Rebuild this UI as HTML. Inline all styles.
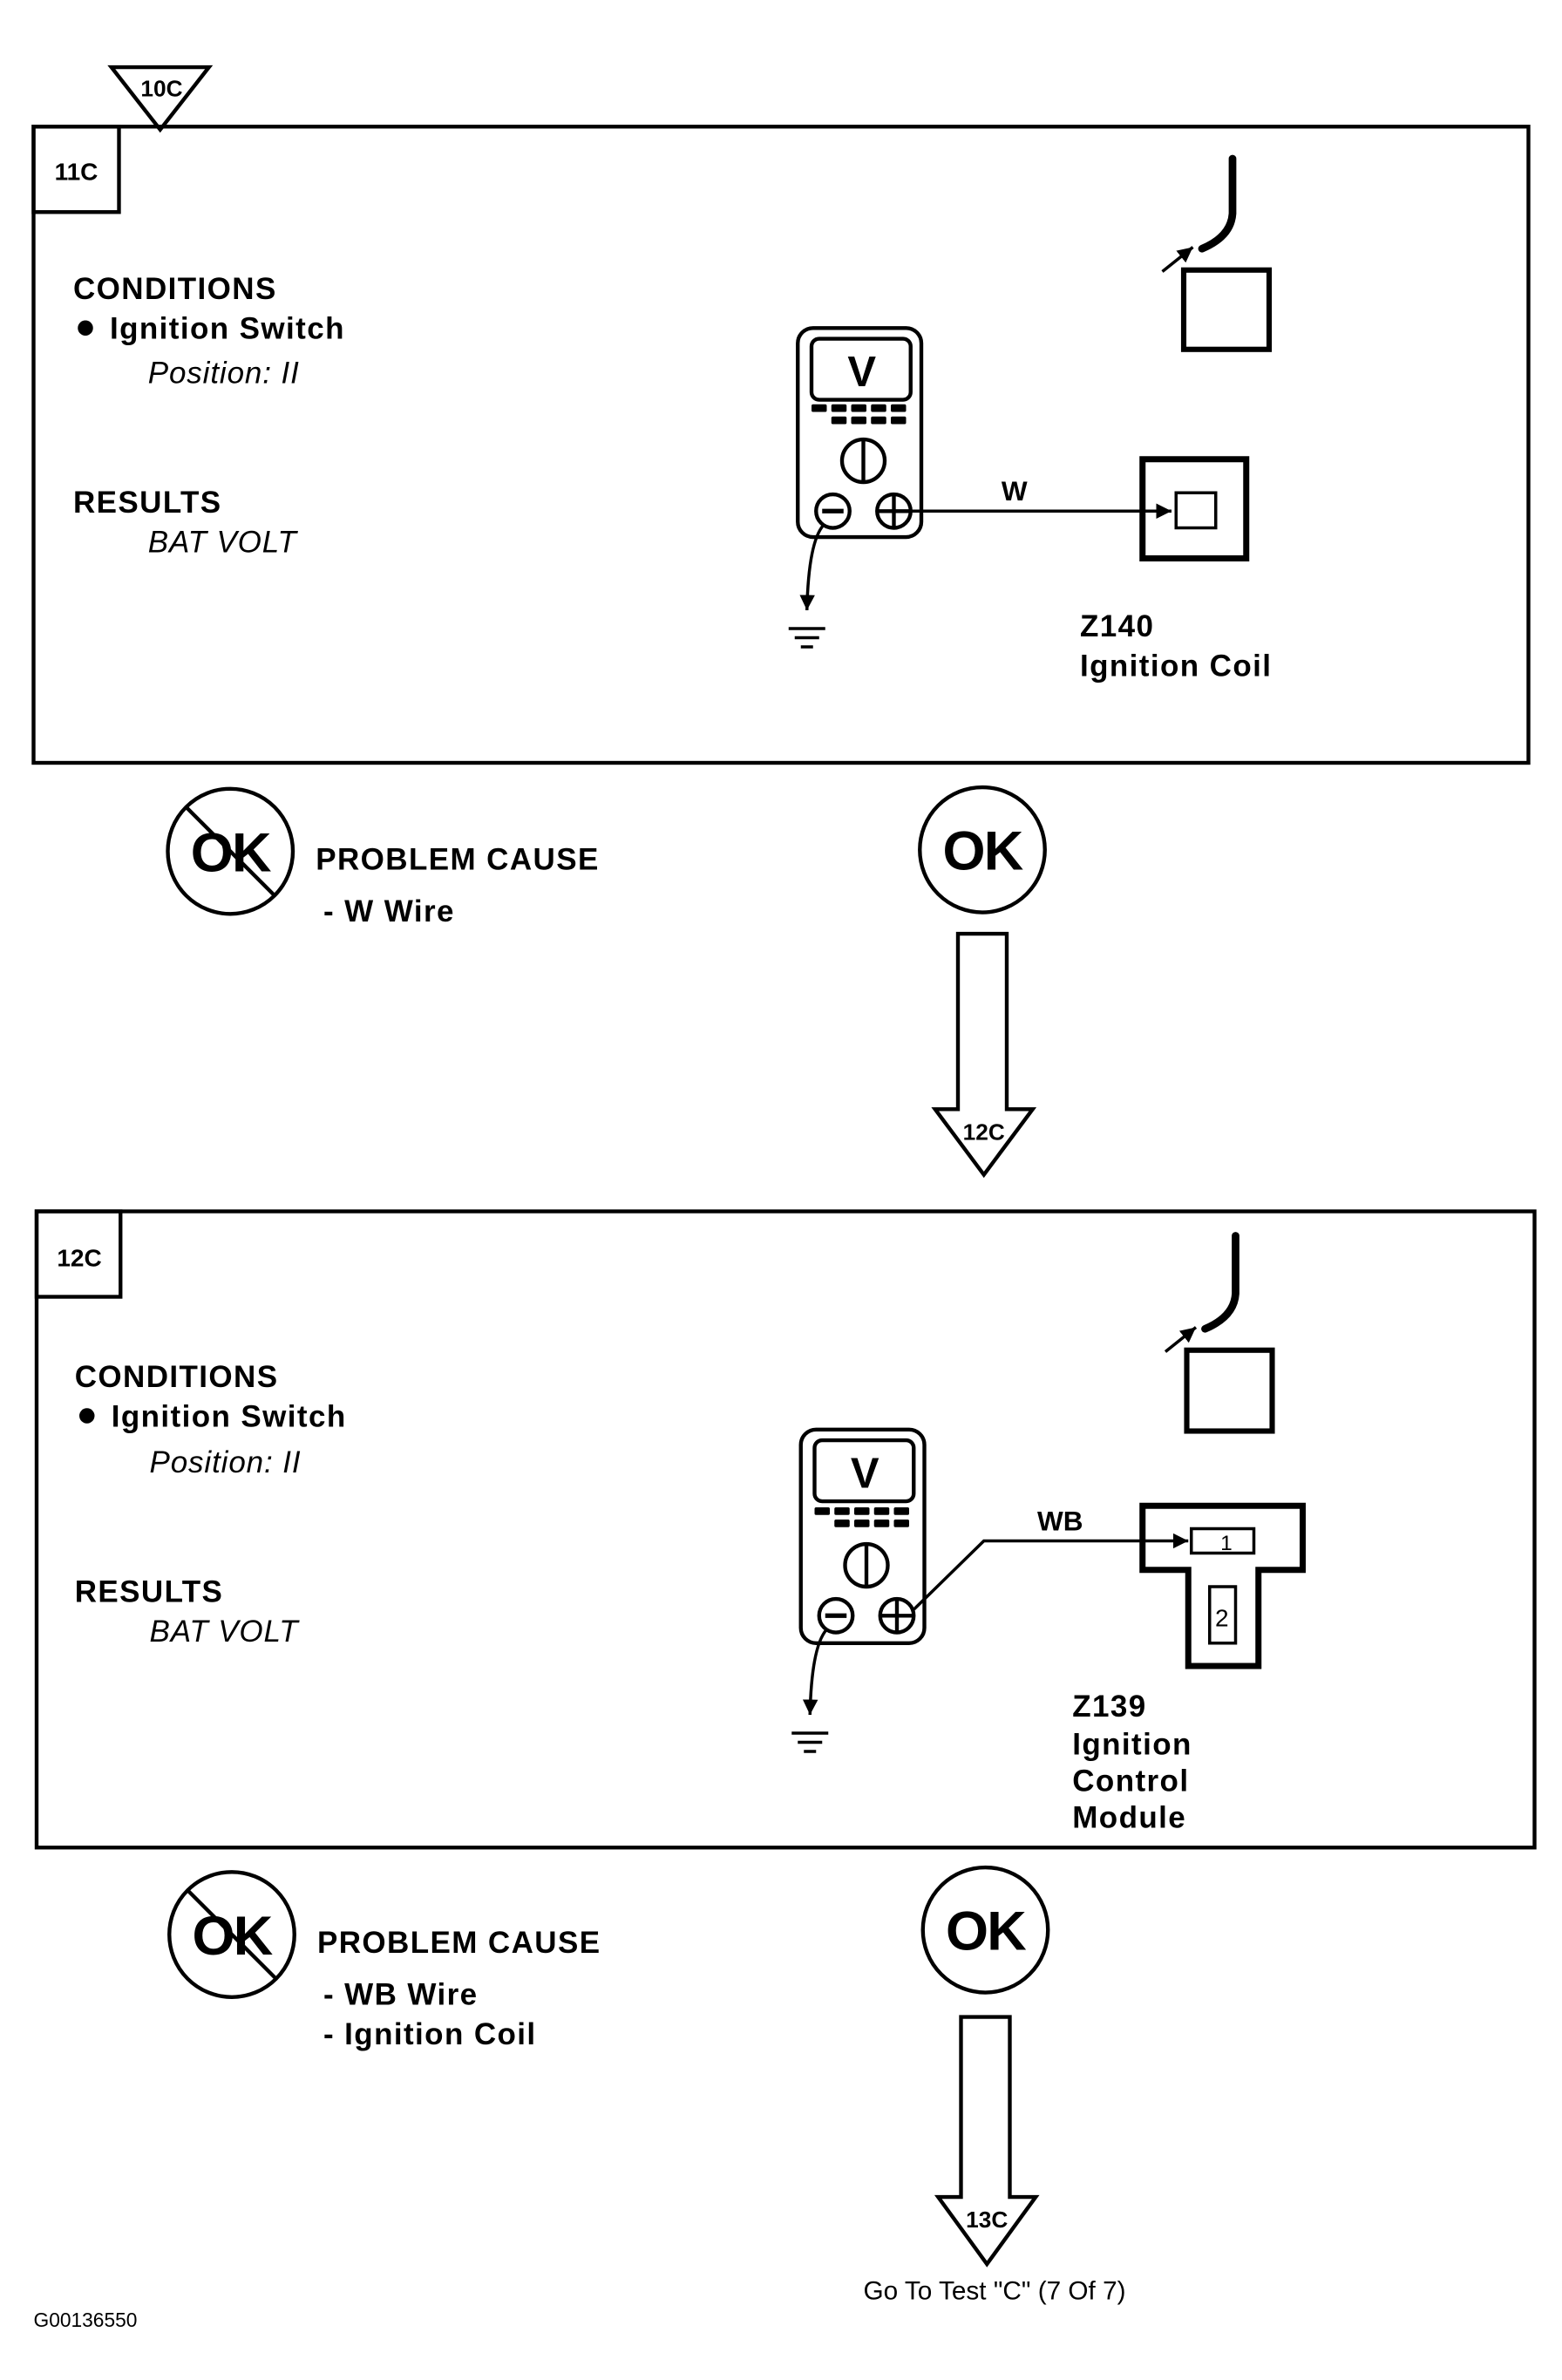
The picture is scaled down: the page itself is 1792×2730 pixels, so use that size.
<!DOCTYPE html>
<html><head><meta charset="utf-8"><style>
html,body{margin:0;padding:0;background:#fff}
svg{display:block}
text{font-family:"Liberation Sans",sans-serif;fill:#000}
.b{font-weight:bold;font-size:20px;letter-spacing:0.8px}
.i{font-style:italic;font-size:20px;letter-spacing:0.5px}
</style></head><body>
<svg width="1792" height="2730" viewBox="0 0 1024 1560" xmlns="http://www.w3.org/2000/svg">
<defs>
<marker id="ah" viewBox="0 0 10 10" refX="10" refY="5" markerWidth="5" markerHeight="5" orient="auto"><path d="M0,0 L10,5 L0,10 z" fill="#000"/></marker>
</defs>
<g fill="none" stroke="#000">
<path d="M73,44 L137,44 L105,85 Z" stroke-width="2.5"/>
<rect x="22" y="83" width="980" height="417" stroke-width="2.5"/>
<rect x="22" y="83" width="56" height="56" stroke-width="2.5"/>
<rect x="523" y="215" width="81" height="137" rx="10" stroke-width="2.5"/>
<rect x="532" y="222" width="65" height="40" rx="5" stroke-width="2.5"/>
<circle cx="566" cy="302" r="14" stroke-width="2.5"/>
<line x1="566" y1="288" x2="566" y2="316" stroke-width="2.5"/>
<circle cx="546" cy="335" r="11" stroke-width="2.5"/>
<line x1="539" y1="335" x2="553" y2="335" stroke-width="3"/>
<circle cx="586" cy="335" r="11" stroke-width="2.5"/>
<line x1="575" y1="335" x2="597" y2="335" stroke-width="2.5"/>
<line x1="586" y1="324" x2="586" y2="346" stroke-width="2.5"/>
<line x1="597" y1="335" x2="768" y2="335" stroke-width="2" marker-end="url(#ah)"/>
<rect x="771" y="323" width="26" height="23" stroke-width="2"/>
<rect x="749" y="301" width="68" height="65" stroke-width="4"/>
<path d="M540,344 Q530,355 529,400" stroke-width="2" marker-end="url(#ah)"/>
<line x1="517" y1="412" x2="541" y2="412" stroke-width="2"/>
<line x1="521" y1="418" x2="537" y2="418" stroke-width="2"/>
<line x1="525" y1="424" x2="533" y2="424" stroke-width="2"/>
<path d="M808,104 L808,140 Q807,155 788,163" stroke-width="5" stroke-linecap="round"/>
<line x1="762" y1="178" x2="782" y2="162" stroke-width="2" marker-end="url(#ah)"/>
<rect x="776" y="177" width="56" height="52" stroke-width="3.5"/>
<circle cx="151" cy="558" r="41" stroke-width="2.5"/>
<line x1="122" y1="529" x2="180" y2="587" stroke-width="2.5"/>
<circle cx="644" cy="557" r="41" stroke-width="2.5"/>
<path d="M628,612 L660,612 L660,727 L677,727 L645,770 L613,727 L628,727 Z" stroke-width="2.5"/>
<rect x="24" y="794" width="982" height="417" stroke-width="2.5"/>
<rect x="24" y="794" width="55" height="56" stroke-width="2.5"/>
<rect x="525" y="937" width="81" height="140" rx="10" stroke-width="2.5"/>
<rect x="534" y="944" width="65" height="40" rx="5" stroke-width="2.5"/>
<circle cx="568" cy="1026" r="14" stroke-width="2.5"/>
<line x1="568" y1="1012" x2="568" y2="1040" stroke-width="2.5"/>
<circle cx="548" cy="1059" r="11" stroke-width="2.5"/>
<line x1="541" y1="1059" x2="555" y2="1059" stroke-width="3"/>
<circle cx="588" cy="1059" r="11" stroke-width="2.5"/>
<line x1="577" y1="1059" x2="599" y2="1059" stroke-width="2.5"/>
<line x1="588" y1="1048" x2="588" y2="1070" stroke-width="2.5"/>
<path d="M599,1055 L645,1010 L779,1010" stroke-width="2" marker-end="url(#ah)"/>
<rect x="781" y="1002" width="41" height="16" stroke-width="2"/>
<path d="M749,987 L854,987 L854,1029 L825,1029 L825,1092 L779,1092 L779,1029 L749,1029 Z" stroke-width="4"/>
<rect x="793" y="1040" width="17" height="37" stroke-width="2"/>
<path d="M542,1068 Q532,1079 531,1124" stroke-width="2" marker-end="url(#ah)"/>
<line x1="519" y1="1136" x2="543" y2="1136" stroke-width="2"/>
<line x1="523" y1="1142" x2="539" y2="1142" stroke-width="2"/>
<line x1="527" y1="1148" x2="535" y2="1148" stroke-width="2"/>
<path d="M810,810 L810,848 Q809,863 790,871" stroke-width="5" stroke-linecap="round"/>
<line x1="764" y1="886" x2="784" y2="870" stroke-width="2" marker-end="url(#ah)"/>
<rect x="778" y="885" width="56" height="53" stroke-width="3.5"/>
<circle cx="152" cy="1268" r="41" stroke-width="2.5"/>
<line x1="123" y1="1239" x2="181" y2="1297" stroke-width="2.5"/>
<circle cx="646" cy="1265" r="41" stroke-width="2.5"/>
<path d="M630,1322 L662,1322 L662,1440 L679,1440 L647,1484 L615,1440 L630,1440 Z" stroke-width="2.5"/>
</g>
<g fill="#000">
<rect x="532" y="265" width="10" height="5" rx="1"/><rect x="545" y="265" width="10" height="5" rx="1"/><rect x="558" y="265" width="10" height="5" rx="1"/><rect x="571" y="265" width="10" height="5" rx="1"/><rect x="584" y="265" width="10" height="5" rx="1"/>
<rect x="545" y="273" width="10" height="5" rx="1"/><rect x="558" y="273" width="10" height="5" rx="1"/><rect x="571" y="273" width="10" height="5" rx="1"/><rect x="584" y="273" width="10" height="5" rx="1"/>
<rect x="534" y="988" width="10" height="5" rx="1"/><rect x="547" y="988" width="10" height="5" rx="1"/><rect x="560" y="988" width="10" height="5" rx="1"/><rect x="573" y="988" width="10" height="5" rx="1"/><rect x="586" y="988" width="10" height="5" rx="1"/>
<rect x="547" y="996" width="10" height="5" rx="1"/><rect x="560" y="996" width="10" height="5" rx="1"/><rect x="573" y="996" width="10" height="5" rx="1"/><rect x="586" y="996" width="10" height="5" rx="1"/>
<circle cx="56" cy="215" r="5"/><circle cx="57" cy="928" r="5"/>
</g>
<text x="106" y="63" text-anchor="middle" class="b" style="font-size:15px;letter-spacing:0">10C</text>
<text x="50" y="118" text-anchor="middle" class="b" style="font-size:16px;letter-spacing:0">11C</text>
<text x="48" y="196" class="b">CONDITIONS</text>
<text x="72" y="222" class="b">Ignition Switch</text>
<text x="97" y="251" class="i">Position: II</text>
<text x="48" y="336" class="b">RESULTS</text>
<text x="97" y="362" class="i">BAT VOLT</text>
<text x="565" y="253" text-anchor="middle" class="b" style="font-size:28px;letter-spacing:0">V</text>
<text x="665" y="328" text-anchor="middle" class="b" style="font-size:18px;letter-spacing:0">W</text>
<text x="708" y="417" class="b">Z140</text>
<text x="708" y="443" class="b">Ignition Coil</text>
<text x="151" y="571" text-anchor="middle" class="b" style="font-size:36px;letter-spacing:-1px">OK</text>
<text x="207" y="570" class="b">PROBLEM CAUSE</text>
<text x="212" y="604" class="b">-  W  Wire</text>
<text x="644" y="570" text-anchor="middle" class="b" style="font-size:36px;letter-spacing:-1px">OK</text>
<text x="645" y="747" text-anchor="middle" class="b" style="font-size:15px;letter-spacing:0">12C</text>
<text x="52" y="830" text-anchor="middle" class="b" style="font-size:16px;letter-spacing:0">12C</text>
<text x="49" y="909" class="b">CONDITIONS</text>
<text x="73" y="935" class="b">Ignition Switch</text>
<text x="98" y="965" class="i">Position: II</text>
<text x="49" y="1050" class="b">RESULTS</text>
<text x="98" y="1076" class="i">BAT VOLT</text>
<text x="567" y="975" text-anchor="middle" class="b" style="font-size:28px;letter-spacing:0">V</text>
<text x="695" y="1003" text-anchor="middle" class="b" style="font-size:18px;letter-spacing:0">WB</text>
<text x="804" y="1016" text-anchor="middle" style="font-size:14px">1</text>
<text x="801" y="1066" text-anchor="middle" style="font-size:16px">2</text>
<text x="703" y="1125" class="b">Z139</text>
<text x="703" y="1150" class="b">Ignition</text>
<text x="703" y="1174" class="b">Control</text>
<text x="703" y="1198" class="b">Module</text>
<text x="152" y="1281" text-anchor="middle" class="b" style="font-size:36px;letter-spacing:-1px">OK</text>
<text x="208" y="1280" class="b">PROBLEM CAUSE</text>
<text x="212" y="1314" class="b">-  WB  Wire</text>
<text x="212" y="1340" class="b">-  Ignition Coil</text>
<text x="646" y="1278" text-anchor="middle" class="b" style="font-size:36px;letter-spacing:-1px">OK</text>
<text x="647" y="1460" text-anchor="middle" class="b" style="font-size:15px;letter-spacing:0">13C</text>
<text x="652" y="1507" text-anchor="middle" style="font-size:17px">Go To Test "C" (7 Of 7)</text>
<text x="22" y="1525" style="font-size:13px">G00136550</text>
</svg>
</body></html>
